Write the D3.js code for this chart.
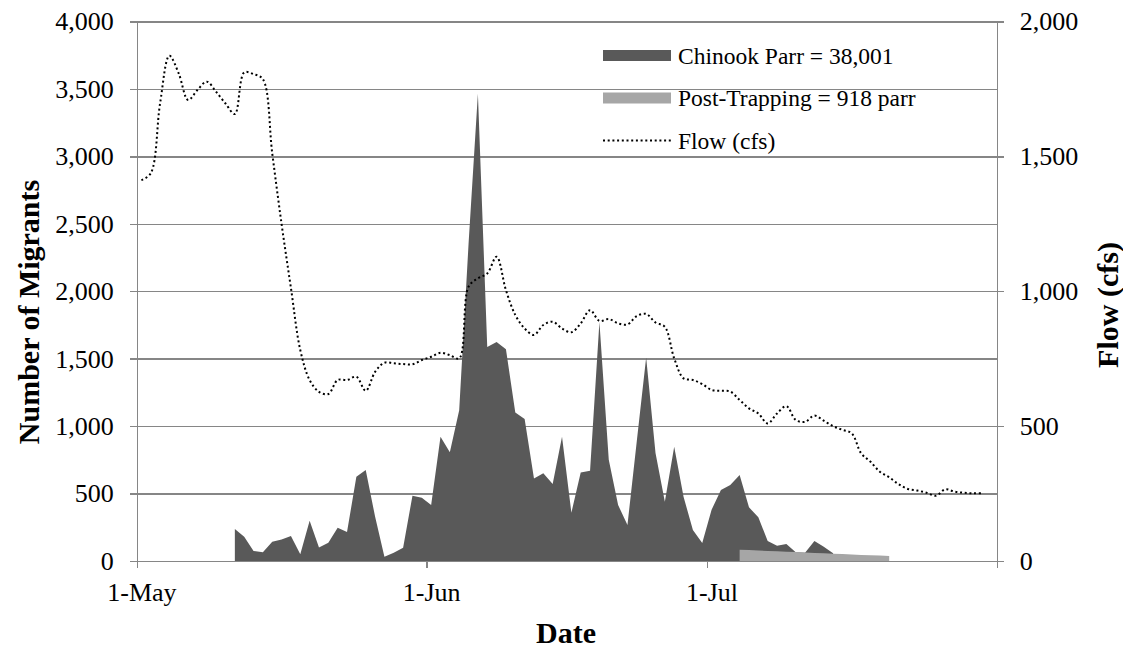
<!DOCTYPE html>
<html>
<head>
<meta charset="utf-8">
<title>Chinook Parr Migration and Flow</title>
<style>
  body { margin: 0; background: #fff; }
  svg { display: block; font-family: "Liberation Serif", "Times New Roman", serif; }
  .grid line { stroke: #868686; stroke-width: 1.4; shape-rendering: crispEdges; }
  .grid path { display: none; }
  .axis path, .axis line { stroke: #868686; stroke-width: 1.4; fill: none; shape-rendering: crispEdges; }
  .axis text { font-family: "Liberation Serif", "Times New Roman", serif; font-size: 26px; fill: #000; }
  .legend text { font-size: 23.5px; fill: #000; }
  .title { font-size: 30px; font-weight: bold; fill: #000; }
</style>
</head>
<body>
<div id="chart"></div>
<script src="https://d3js.org/d3.v7.min.js"></script>
<script>
// daily counts of Chinook parr, starting 11 May
var chinookStart = "2013-05-11";
var chinookParr = [
  237, 180, 74, 64, 143, 160, 185, 50, 299, 101, 136, 247, 215, 624, 674, 330, 32, 62, 99, 484, 469,
  415, 921, 807, 1118, 2350, 3464, 1587, 1624, 1570, 1101, 1052, 612, 650, 570, 921, 358, 657, 669,
  1772, 750, 415, 267, 890, 1509, 800, 439, 847, 476, 230, 134,
  380, 526, 563, 637, 398, 324, 148, 113, 126, 64, 62, 148, 106, 57
];

// post-trapping estimate, starting 4 July
var postStart = "2013-07-04";
var postTrapping = [84, 81, 78, 75, 72, 69, 66, 63, 60, 57, 54, 51, 48, 45, 42, 40, 37];

// daily mean flow (cfs), starting 1 May
var flowStart = "2013-05-01";
var flowCfs = [
  1412, 1437, 1696, 1873, 1807, 1709, 1746, 1777, 1739, 1696, 1657, 1811, 1805, 1786, 1511, 1249,
  1012, 782, 671, 627, 619, 671, 671, 683, 631, 701, 735, 733, 730, 729, 745,
  757, 772, 763, 751, 1017, 1048, 1066, 1128, 1004, 912, 862, 838, 875, 887, 862, 848, 881, 930,
  890, 897, 881, 877, 908, 916, 884, 868, 751, 677, 671, 656,
  634, 631, 628, 597, 566, 547, 510, 547, 574, 523, 516, 539, 520, 500, 486, 473, 399, 368, 331,
  310, 285, 267, 261, 253, 242, 266, 257, 253, 251, 251
];

var xTickDates = ["2013-05-01", "2013-06-01", "2013-07-01", "2013-08-01"];
var xTickLabels = ["1-May", "1-Jun", "1-Jul", ""];
var leftTicks = [0, 500, 1000, 1500, 2000, 2500, 3000, 3500, 4000];
var rightTicks = [0, 500, 1000, 1500, 2000];
var legendLabels = ["Chinook Parr = 38,001", "Post-Trapping = 918 parr", "Flow (cfs)"];

var W = 1123, H = 650;
var margin = { top: 21.5, right: 126.3, bottom: 89, left: 136.7 };
var width = W - margin.left - margin.right;
var height = H - margin.top - margin.bottom;

var parse = d3.utcParse("%Y-%m-%d");
function series(start, values) {
  var s = parse(start);
  return values.map(function(v, i) {
    // points sit in the middle of their day
    return { date: d3.utcHour.offset(d3.utcDay.offset(s, i), 12), value: v };
  });
}
var chinook = series(chinookStart, chinookParr);
var post = series(postStart, postTrapping);
var flow = series(flowStart, flowCfs);

var svg = d3.select("#chart").append("svg")
  .attr("width", W).attr("height", H);
var g = svg.append("g")
  .attr("transform", "translate(" + margin.left + "," + margin.top + ")");

var x = d3.scaleUtc()
  .domain([parse(xTickDates[0]), parse(xTickDates[3])])
  .range([0, width]);
var y = d3.scaleLinear().domain([0, 4000]).range([height, 0]);
var y2 = d3.scaleLinear().domain([0, 2000]).range([height, 0]);

// gridlines
g.append("g").attr("class", "grid")
  .call(d3.axisLeft(y).tickValues(leftTicks).tickSize(-width).tickFormat(""));

// areas
var area = d3.area()
  .x(function(d) { return x(d.date); })
  .y0(height)
  .y1(function(d) { return y(d.value); });

g.append("path").datum(chinook)
  .attr("fill", "#595959")
  .attr("d", area);

g.append("path").datum(post)
  .attr("fill", "#a6a6a6")
  .attr("d", area);

// flow line
var line = d3.line()
  .x(function(d) { return x(d.date); })
  .y(function(d) { return y2(d.value); })
  .curve(d3.curveCatmullRom);

g.append("path").datum(flow)
  .attr("fill", "none")
  .attr("stroke", "#000")
  .attr("stroke-width", 2)
  .attr("stroke-dasharray", "2 2.7")
  .attr("d", line);

// left axis
g.append("g").attr("class", "axis")
  .call(d3.axisLeft(y).tickValues(leftTicks).tickFormat(d3.format(","))
    .tickSizeInner(7).tickSizeOuter(0).tickPadding(16));

// right axis
g.append("g").attr("class", "axis")
  .attr("transform", "translate(" + width + ",0)")
  .call(d3.axisRight(y2).tickValues(rightTicks).tickFormat(d3.format(","))
    .tickSizeInner(7).tickSizeOuter(0).tickPadding(16));

// bottom axis: tick marks at month starts
g.append("g").attr("class", "axis")
  .attr("transform", "translate(0," + height + ")")
  .call(d3.axisBottom(x).tickValues(xTickDates.map(parse))
    .tickFormat("").tickSizeInner(7).tickSizeOuter(0));

// month labels centred on their day
var labelDates = xTickDates.map(function(s) { return d3.utcHour.offset(parse(s), 12); });
var xLabels = g.append("g").attr("class", "axis")
  .attr("transform", "translate(0," + height + ")")
  .call(d3.axisBottom(x).tickValues(labelDates)
    .tickFormat(function(d, i) { return xTickLabels[i]; }).tickSize(0));
xLabels.select(".domain").remove();
xLabels.selectAll("text").attr("y", 40).attr("dy", 0);

// axis titles
svg.append("text").attr("class", "title")
  .attr("transform", "translate(39,312) rotate(-90)")
  .attr("text-anchor", "middle")
  .text("Number of Migrants");

svg.append("text").attr("class", "title")
  .attr("transform", "translate(1118,305) rotate(-90)")
  .attr("text-anchor", "middle")
  .text("Flow (cfs)");

svg.append("text").attr("class", "title")
  .attr("x", 566).attr("y", 643)
  .attr("text-anchor", "middle")
  .text("Date");

// legend
var legend = svg.append("g").attr("class", "legend")
  .attr("transform", "translate(603,0)");
var rowY = [55.5, 98, 140.5];

legend.append("rect").attr("x", 0).attr("y", rowY[0] - 5.5)
  .attr("width", 68).attr("height", 11).attr("fill", "#595959");
legend.append("rect").attr("x", 0).attr("y", rowY[1] - 5.5)
  .attr("width", 68).attr("height", 11).attr("fill", "#a6a6a6");
legend.append("line").attr("x1", 0).attr("x2", 68)
  .attr("y1", rowY[2]).attr("y2", rowY[2])
  .attr("stroke", "#000").attr("stroke-width", 2).attr("stroke-dasharray", "2 2.7");

legend.selectAll("text").data(legendLabels).enter().append("text")
  .attr("x", 75)
  .attr("y", function(d, i) { return rowY[i] + 8; })
  .text(function(d) { return d; });
</script>
</body>
</html>
